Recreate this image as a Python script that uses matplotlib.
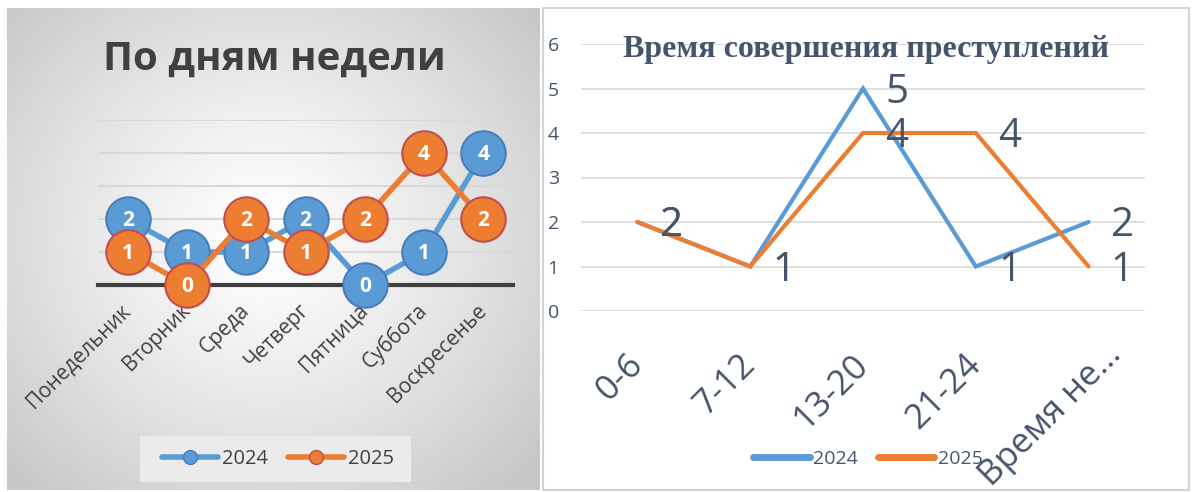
import numpy as np
import matplotlib
matplotlib.use("Agg")
import matplotlib.pyplot as plt
from matplotlib.lines import Line2D
from matplotlib.patches import Rectangle
from matplotlib.transforms import ScaledTranslation

plt.rcParams['font.family'] = ['Open Sans', 'DejaVu Sans']

# --- data: left chart (by weekday)
days = ["Понедельник", "Вторник", "Среда", "Четверг", "Пятница", "Суббота", "Воскресенье"]
days_2024 = [2, 1, 1, 2, 0, 1, 4]
days_2025 = [1, 0, 2, 1, 2, 4, 2]

# --- data: right chart (time of day)
periods = ["0-6", "7-12", "13-20", "21-24", "Время не..."]
time_2024 = [2, 1, 5, 1, 2]
time_2025 = [2, 1, 4, 4, 1]

BLUE = '#5B9BD5'
ORANGE = '#ED7D31'
SLATE = '#44546A'
DARK = '#404040'

W, H = 1196, 492
fig = plt.figure(figsize=(W / 100, H / 100), dpi=100)


def fx(px):
    return px / W


def fy(py):
    return 1 - py / H


# left panel background: radial gradient
bg = fig.add_axes([fx(7), fy(490), fx(540 - 7), (490 - 8) / H], zorder=-5)
gx, gy = np.meshgrid(np.linspace(-1, 1, 300), np.linspace(-1, 1, 300))
r = np.sqrt(((gx + 0.03) / 1.0) ** 2 + ((gy + 0.05) / 1.05) ** 2)
shade = 1 - 0.22 * np.clip(r / 1.35, 0, 1) ** 1.2
bg.imshow(shade, cmap='gray', vmin=0, vmax=1, aspect='auto', extent=(0, 1, 0, 1))
bg.axis('off')

# right panel frame
fig.patches.append(Rectangle((fx(543), fy(490)), fx(1189 - 543), (490 - 8) / H,
                             transform=fig.transFigure, facecolor='white',
                             edgecolor='#d4d4d4', linewidth=1.5, zorder=-4))
# left legend box
fig.patches.append(Rectangle((fx(140), fy(482)), fx(411 - 140), (482 - 436) / H,
                             transform=fig.transFigure, facecolor='#ebebeb',
                             edgecolor='none', zorder=-3))

# ---------------- left chart ----------------
ax1 = fig.add_axes([fx(98), fy(285), fx(513 - 98), (285 - 120) / H])
ax1.patch.set_alpha(0)
x1 = np.arange(len(days))
series1 = [(days_2024, BLUE, '#4A7EBB', '2024', 3),
           (days_2025, ORANGE, '#C0504D', '2025', 6)]
for vals, col, edge, lab, z in series1:
    ax1.plot(x1, vals, color=col, lw=4, marker='o', markersize=32,
             markerfacecolor=col, markeredgecolor=edge, markeredgewidth=1.5,
             solid_capstyle='round', clip_on=False, zorder=z, label=lab)
    for xi, v in zip(x1, vals):
        ax1.text(xi, v - 0.04, str(v), ha='center', va='center', color='white',
                 fontsize=15, fontweight='bold', zorder=z + 1, clip_on=False)

ax1.set_xlim(-0.5, len(days) - 0.5)
ax1.set_ylim(0, 5)
ax1.set_yticks(range(0, 6))
ax1.yaxis.grid(True, color='#d9d9d9', lw=1.5)
ax1.set_axisbelow(True)
ax1.tick_params(axis='y', left=False, labelleft=False)
ax1.set_xticks(x1)
ax1.set_xticklabels(days, rotation=45, ha='right', va='center',
                    rotation_mode='anchor', fontsize=15, color=DARK)
ax1.tick_params(axis='x', length=0, pad=16)
for s in ['top', 'right', 'left']:
    ax1.spines[s].set_visible(False)
ax1.spines['bottom'].set_color(DARK)
ax1.spines['bottom'].set_linewidth(3)

fig.text(fx(274), fy(59), "По дням недели", ha='center', va='center',
         fontsize=29, fontweight='bold', color=DARK)

h1 = [Line2D([], [], color=BLUE, lw=4, marker='o', markersize=10,
             markerfacecolor=BLUE, markeredgecolor='#4A7EBB', solid_capstyle='round'),
      Line2D([], [], color=ORANGE, lw=4, marker='o', markersize=10,
             markerfacecolor=ORANGE, markeredgecolor='#C0504D', solid_capstyle='round')]
leg1 = fig.legend(h1, ['2024', '2025'], loc='center', bbox_to_anchor=(fx(278), fy(459)),
                  ncol=2, frameon=False, fontsize=14.5, handlelength=2.8,
                  handletextpad=0.2, columnspacing=1.0, borderpad=0)
for t in leg1.get_texts():
    t.set_color(DARK)

# ---------------- right chart ----------------
ax2 = fig.add_axes([fx(581), fy(311), fx(1145 - 581), (311 - 44) / H])
ax2.patch.set_alpha(0)
x2 = np.arange(len(periods))
for vals, col, z in [(time_2024, BLUE, 3), (time_2025, ORANGE, 4)]:
    ax2.plot(x2, vals, color=col, lw=3, solid_capstyle='round',
             solid_joinstyle='miter', zorder=z, clip_on=False)
    for xi, v in zip(x2, vals):
        ax2.annotate(str(v), (xi, v), xytext=(16, -3), textcoords='offset points',
                     ha='left', va='center', fontsize=29, color=SLATE, zorder=6)

ax2.set_xlim(-0.5, len(periods) - 0.5)
ax2.set_ylim(0, 6)
ax2.set_yticks(range(0, 7))
ax2.yaxis.grid(True, color='#d9d9d9', lw=1.2)
ax2.set_axisbelow(True)
ax2.tick_params(axis='y', length=0, pad=24, labelsize=14, labelcolor=SLATE)
for lbl in ax2.get_yticklabels():
    lbl.set_horizontalalignment('left')
ax2.set_xticks(x2)
ax2.set_xticklabels(periods, rotation=45, ha='right', va='center',
                    rotation_mode='anchor', fontsize=25, color=SLATE)
ax2.tick_params(axis='x', length=0, pad=35)
for s in ax2.spines.values():
    s.set_visible(False)
# the long truncated label sits further right/up, as in the original
last = ax2.get_xticklabels()[-1]
last.set_transform(last.get_transform() + ScaledTranslation(20 / 72, 7 / 72, fig.dpi_scale_trans))

fig.text(fx(866), fy(50), "Время совершения преступлений", ha='center', va='center',
         fontsize=23, fontweight='bold', color=SLATE, family='Liberation Serif')

h2 = [Line2D([], [], color=BLUE, lw=5, solid_capstyle='round'),
      Line2D([], [], color=ORANGE, lw=5, solid_capstyle='round')]
leg2 = fig.legend(h2, ['2024', '2025'], loc='center', bbox_to_anchor=(fx(868), fy(459)),
                  ncol=2, frameon=False, fontsize=14, handlelength=2.9,
                  handletextpad=0.2, columnspacing=1.0, borderpad=0)
for t in leg2.get_texts():
    t.set_color(SLATE)

fig.savefig("out.png", dpi=100)
